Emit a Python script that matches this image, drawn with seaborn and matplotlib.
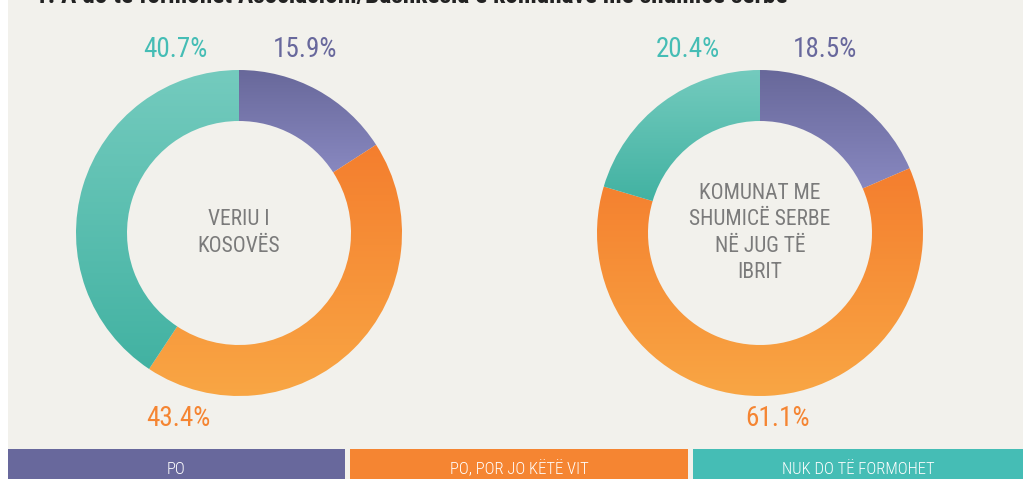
import numpy as np
import matplotlib
matplotlib.use('Agg')
import matplotlib.pyplot as plt
import seaborn as sns
from matplotlib.colors import LinearSegmentedColormap
from matplotlib.patches import Rectangle

# Datos
titulo = '1. A do të formohet Asociacioni/Bashkësia e komunave me shumicë serbe'
categorias = ['PO', 'PO, POR JO KËTË VIT', 'NUK DO TË FORMOHET']
regiones = ['VERIU I\nKOSOVËS', 'KOMUNAT ME\nSHUMICË SERBE\nNË JUG TË\nIBRIT']
valores_veriu = [15.9, 43.4, 40.7]
valores_jug = [18.5, 61.1, 20.4]

colores = ['#68689C', '#F58532', '#45BDB5']
# gradiente (arriba, abajo) de cada sector
gradientes = [('#68689A', '#8888C0'), ('#F47E2E', '#F9A644'), ('#74CBBE', '#42B2A2')]

sns.set_theme(style='white')
plt.rcParams['font.family'] = ['Roboto Condensed', 'DejaVu Sans Condensed',
                               'Liberation Sans Narrow', 'DejaVu Sans']

W, H = 1023, 479
fig = plt.figure(figsize=(W / 100, H / 100), dpi=100)
fig.patch.set_facecolor('#F2F1EC')
ax = fig.add_axes([0, 0, 1, 1])
ax.set_xlim(0, W)
ax.set_ylim(0, H)
ax.set_aspect('equal')
ax.axis('off')

fig.patches.append(Rectangle((0, 0), 8 / W, 1, transform=fig.transFigure,
                             facecolor='white', edgecolor='none'))


def dona(valores, cx, cy, texto, pos_etiquetas):
    R, ancho = 163, 51
    wedges, _ = ax.pie(valores, colors=colores, startangle=90, counterclock=False,
                       radius=R, center=(cx, H - cy), frame=True,
                       wedgeprops=dict(width=ancho, edgecolor='none'))
    for w, (c1, c2) in zip(wedges, gradientes):
        bb = w.get_path().get_extents()
        cmap = LinearSegmentedColormap.from_list('g', [c2, c1])
        grad = np.linspace(0, 1, 256).reshape(-1, 1)
        im = ax.imshow(grad, cmap=cmap, extent=[bb.x0, bb.x1, bb.y0, bb.y1],
                       origin='lower', aspect='auto', zorder=2)
        im.set_clip_path(w)
        w.set_alpha(0)
    ax.text(cx, H - cy, texto, ha='center', va='center', fontsize=15.5,
            color='#7B7B7B', linespacing=1.35)
    for v, col, (px, py) in zip(valores, colores, pos_etiquetas):
        ax.text(px, H - py, f'{v}%', ha='center', va='center', fontsize=19.5,
                color=col)


dona(valores_veriu, 239, 233, regiones[0], [(305, 49), (178, 418), (175, 49)])
dona(valores_jug, 760, 233, regiones[1], [(825, 49), (778, 418), (688, 49)])
ax.set_xlim(0, W)
ax.set_ylim(0, H)

# Leyenda en barras
tramos = [(8, 345), (350, 688), (693, 1023)]
for cat, col, (x0, x1) in zip(categorias, colores, tramos):
    fig.patches.append(Rectangle((x0 / W, 0), (x1 - x0) / W, 30 / H,
                                 transform=fig.transFigure, facecolor=col,
                                 edgecolor='none'))
    fig.text((x0 + x1) / 2 / W, 10 / H, cat, ha='center', va='center',
             fontsize=12, fontweight='light', color='white')

fig.text(35 / W, 1 - 3 / H, titulo, ha='left', va='baseline', fontsize=18.3,
         fontweight='bold', color='#222222')

fig.savefig('out.png', dpi=100, facecolor=fig.get_facecolor())
